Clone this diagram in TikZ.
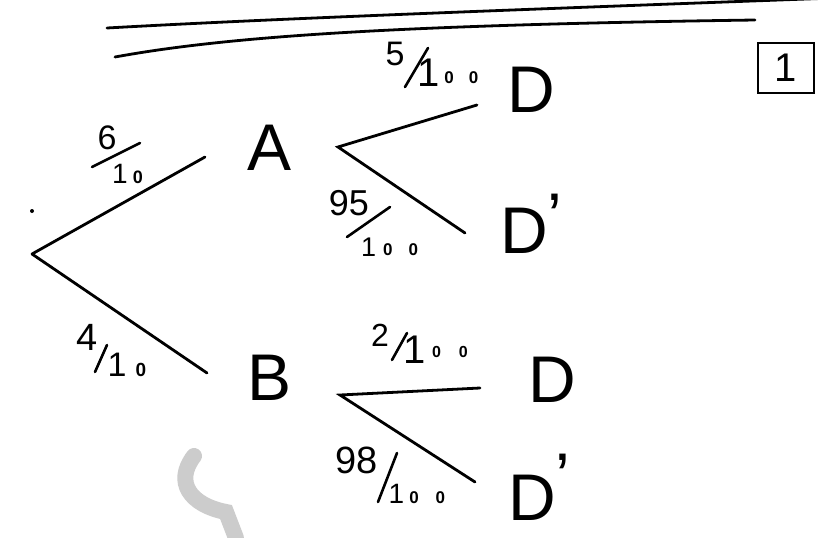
\documentclass[tikz,border=0pt]{standalone}
\usepackage{fontspec}
\setmainfont{Liberation Sans}
\newcommand{\one}[1]{{\fontsize{#1}{#1}\selectfont 1}}
\newcommand{\oo}[1]{{\fontsize{#1}{#1}\selectfont\bfseries 0}}
\begin{document}
\begin{tikzpicture}[x=1pt,y=-1pt,
  branch/.style={line width=2.8pt, line cap=round},
  slashline/.style={line width=2.6pt, line cap=round},
  letter/.style={font=\fontsize{66}{66}\selectfont, inner sep=0pt},
  numer/.style={inner sep=0pt},
  denom/.style={inner sep=0pt, anchor=base west}]
\fill[white] (0,0) rectangle (830,538);
\useasboundingbox (0,0) rectangle (830,538);
% heading double line
\draw[branch] (107,28) .. controls (250,20) and (450,12) .. (834,-2);
\draw[branch] (115,57) .. controls (230,36) and (400,25) .. (755,20);
% box
\node[draw, line width=2.8pt, minimum width=56pt, minimum height=50pt, inner sep=0pt, font=\fontsize{40}{40}\selectfont] (box) at (786,68) {1};
% nodes
\node[letter] (A) at (270,148) {A};
\node[letter] (B) at (270,378) {B};
\node[letter] (DA) at (531,90) {D};
\node[letter, anchor=base west] (DAn) at (500,253) {D\raisebox{14pt}{\textquoteright}};
\node[letter] (DB) at (552,380) {D};
\node[letter, anchor=base west] (DBn) at (508,520) {D\raisebox{21pt}{\textquoteright}};
% branch end points
\coordinate (root) at (32,254);
\coordinate (rootA) at (205,157);
\coordinate (rootB) at (207,373);
\coordinate (Afork) at (338,147);
\coordinate (AD) at (477,105);
\coordinate (ADn) at (465,233);
\coordinate (Bfork) at (340,395);
\coordinate (BD) at (480,388);
\coordinate (BDn) at (475,482);
\fill (32,211) circle (2pt);
\draw[branch] (root) -- (rootA);
\draw[branch] (root) -- (rootB);
\draw[branch] (AD) -- (Afork) -- (ADn);
\draw[branch] (BD) -- (Bfork) -- (BDn);
% probabilities: 6/10
\node[numer, font=\fontsize{34}{34}\selectfont] (n1) at (107,138) {6};
\draw[slashline] (92,167) -- (140,143);
\node[denom] (d1) at (112,183) {\one{28}\kern5pt\oo{18}};
% 5/100
\node[numer, font=\fontsize{34}{34}\selectfont] (n2) at (395,54) {5};
\draw[slashline] (405,87) -- (428,48);
\node[denom] (d2) at (417,86) {\one{40}\kern5pt\raisebox{3pt}{\oo{17}\kern15pt\oo{17}}};
% 95/100
\node[numer, font=\fontsize{36}{36}\selectfont] (n3) at (349,203) {95};
\draw[slashline] (347,237) -- (390,207);
\node[denom] (d3) at (361,256) {\one{27}\kern7pt\raisebox{1pt}{\oo{17}\kern16pt\oo{17}}};
% 4/10
\node[numer, font=\fontsize{38}{38}\selectfont] (n4) at (87,337) {4};
\draw[slashline] (95,372) -- (107,345);
\node[denom] (d4) at (107.5,376) {\one{34}\kern9pt\oo{19}};
% 2/100
\node[numer, font=\fontsize{32}{32}\selectfont] (n5) at (380,335) {2};
\draw[slashline] (392,360) -- (407,333);
\node[denom] (d5) at (403.6,363) {\one{40}\kern6pt\raisebox{6pt}{\oo{16}\kern18pt\oo{16}}};
% 98/100
\node[numer, font=\fontsize{38}{38}\selectfont] (n6) at (357,460) {98};
\draw[slashline] (378,502) -- (397,453);
\node[denom] (d6) at (388.5,503) {\one{28}\kern5pt\oo{17}\kern17pt\oo{17}};
% smudge
\draw[black!20, line width=16pt, line cap=round] (194,456) .. controls (174,482) and (190,505) .. (226,512) -- (236,538);
\end{tikzpicture}
\end{document}
